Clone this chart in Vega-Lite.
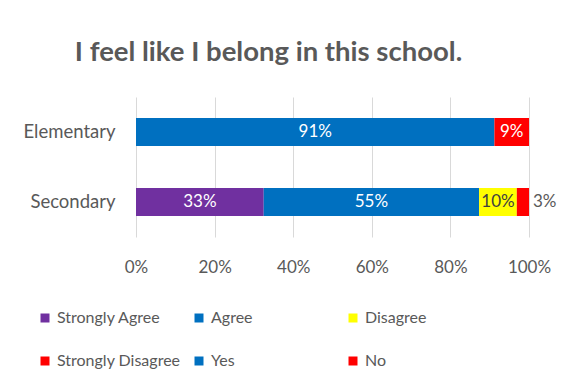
{
  "$schema": "https://vega.github.io/schema/vega-lite/v6.json",
  "width": 393,
  "height": 140,
  "autosize": {"type": "none"},
  "padding": {"left": 136, "top": 97, "right": 46, "bottom": 155},
  "background": "white",
  "config": {"view": {"stroke": null}, "font": "Lato"},
  "title": {
    "text": "I feel like I belong in this school.",
    "font": "Lato",
    "fontSize": 27.5,
    "fontWeight": "bold",
    "color": "#595959",
    "anchor": "middle",
    "frame": "group",
    "dx": -64,
    "offset": 31
  },
  "data": {
    "values": [
      {"group": "Elementary", "category": "Yes", "k": 1, "value": 0.912, "label": "91%"},
      {"group": "Elementary", "category": "No", "k": 2, "value": 0.088, "label": "9%"},
      {"group": "Secondary", "category": "Strongly Agree", "k": 1, "value": 0.325, "label": "33%"},
      {"group": "Secondary", "category": "Agree", "k": 2, "value": 0.548, "label": "55%"},
      {"group": "Secondary", "category": "Disagree", "k": 3, "value": 0.096, "label": "10%"},
      {"group": "Secondary", "category": "Strongly Disagree", "k": 4, "value": 0.031, "label": "3%"}
    ]
  },
  "transform": [
    {"stack": "value", "groupby": ["group"], "sort": [{"field": "k", "order": "ascending"}], "as": ["v0", "v1"]},
    {"calculate": "(datum.v0 + datum.v1) / 2", "as": "mid"}
  ],
  "encoding": {
    "y": {
      "field": "group",
      "type": "nominal",
      "sort": ["Elementary", "Secondary"],
      "scale": {"paddingInner": 0.6, "paddingOuter": 0.3},
      "axis": {
        "title": null,
        "domain": false,
        "ticks": false,
        "labelPadding": 21,
        "labelFont": "Lato",
        "labelFontSize": 18.5,
        "labelColor": "#595959"
      }
    }
  },
  "layer": [
    {
      "mark": {"type": "bar"},
      "encoding": {
        "x": {
          "field": "v0",
          "type": "quantitative",
          "scale": {"domain": [0, 1]},
          "axis": {
            "title": null,
            "format": ".0%",
            "values": [0, 0.2, 0.4, 0.6, 0.8, 1],
            "domain": false,
            "ticks": false,
            "grid": true,
            "gridColor": "#d9d9d9",
            "labelFlush": false,
            "labelPadding": 22,
            "labelFont": "Lato",
            "labelFontSize": 17,
            "labelColor": "#595959"
          }
        },
        "x2": {"field": "v1"},
        "color": {
          "field": "category",
          "type": "nominal",
          "scale": {
            "domain": ["Strongly Agree", "Agree", "Disagree", "Strongly Disagree", "Yes", "No"],
            "range": ["#7030A0", "#0070C0", "#FFFF00", "#FF0000", "#0070C0", "#FF0000"]
          },
          "legend": {
            "title": null,
            "orient": "none",
            "legendX": -99,
            "legendY": 213,
            "direction": "horizontal",
            "columns": 3,
            "gridAlign": "all",
            "columnPadding": 10,
            "rowPadding": 27,
            "symbolType": "square",
            "symbolSize": 81,
            "symbolStrokeWidth": 0,
            "labelOffset": 4,
            "labelFont": "Lato",
            "labelFontSize": 16,
            "labelColor": "#595959"
          }
        }
      }
    },
    {
      "transform": [{"filter": "datum.value >= 0.05"}],
      "mark": {"type": "text", "font": "Lato", "fontSize": 17},
      "encoding": {
        "x": {"field": "mid", "type": "quantitative"},
        "text": {"field": "label"},
        "color": {"condition": {"test": "datum.category === 'Disagree'", "value": "#404040"}, "value": "white"}
      }
    },
    {
      "transform": [{"filter": "datum.value < 0.05"}],
      "mark": {"type": "text", "font": "Lato", "fontSize": 17, "align": "left", "dx": 4},
      "encoding": {
        "x": {"field": "v1", "type": "quantitative"},
        "text": {"field": "label"},
        "color": {"value": "#595959"}
      }
    }
  ]
}
